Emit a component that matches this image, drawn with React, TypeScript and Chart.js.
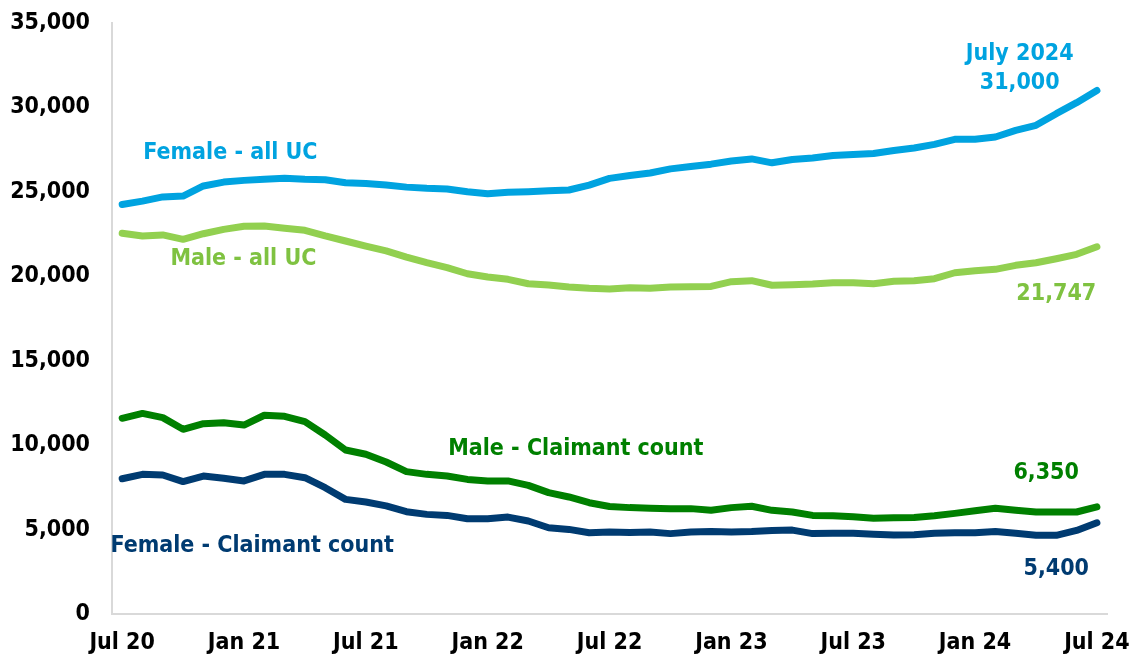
import React, { useEffect, useRef } from "react";
import { Chart, registerables } from "chart.js";

Chart.register(...registerables);

const months = [
  "Jul 20", "Aug 20", "Sep 20", "Oct 20", "Nov 20", "Dec 20",
  "Jan 21", "Feb 21", "Mar 21", "Apr 21", "May 21", "Jun 21",
  "Jul 21", "Aug 21", "Sep 21", "Oct 21", "Nov 21", "Dec 21",
  "Jan 22", "Feb 22", "Mar 22", "Apr 22", "May 22", "Jun 22",
  "Jul 22", "Aug 22", "Sep 22", "Oct 22", "Nov 22", "Dec 22",
  "Jan 23", "Feb 23", "Mar 23", "Apr 23", "May 23", "Jun 23",
  "Jul 23", "Aug 23", "Sep 23", "Oct 23", "Nov 23", "Dec 23",
  "Jan 24", "Feb 24", "Mar 24", "Apr 24", "May 24", "Jun 24",
  "Jul 24",
];

const tickLabels = ["Jul 20", "Jan 21", "Jul 21", "Jan 22", "Jul 22", "Jan 23", "Jul 23", "Jan 24", "Jul 24"];

const femaleAllUC = [
  24250, 24450, 24700, 24750, 25350, 25580, 25680, 25740, 25800, 25740,
  25720, 25540, 25500, 25400, 25280, 25210, 25170, 25010, 24890, 24970,
  25010, 25070, 25110, 25400, 25800, 25970, 26120, 26360, 26500, 26640,
  26830, 26950, 26720, 26920, 27010, 27150, 27210, 27270, 27450, 27600,
  27810, 28110, 28110, 28250, 28640, 28940, 29630, 30280, 31000,
];

const maleAllUC = [
  22550, 22390, 22450, 22190, 22520, 22780, 22960, 22980, 22840, 22720,
  22390, 22090, 21790, 21500, 21140, 20810, 20510, 20150, 19960, 19820,
  19560, 19480, 19370, 19290, 19250, 19320, 19290, 19370, 19380, 19400,
  19680, 19740, 19470, 19500, 19540, 19620, 19620, 19560, 19700, 19740,
  19860, 20210, 20330, 20410, 20650, 20800, 21040, 21300, 21747,
];

const maleClaimant = [
  11590, 11880, 11630, 10940, 11270, 11330, 11190, 11770, 11710, 11390,
  10600, 9710, 9460, 9000, 8430, 8270, 8170, 7970, 7880, 7880,
  7620, 7190, 6930, 6590, 6370, 6300, 6260, 6240, 6240, 6140,
  6300, 6380, 6140, 6040, 5840, 5820, 5760, 5670, 5700, 5720,
  5820, 5960, 6120, 6260, 6140, 6040, 6040, 6040, 6350,
];

const femaleClaimant = [
  8010, 8270, 8230, 7840, 8170, 8040, 7880, 8270, 8270, 8070,
  7480, 6790, 6630, 6400, 6060, 5900, 5840, 5640, 5640, 5740,
  5510, 5110, 5010, 4810, 4850, 4830, 4850, 4760, 4860, 4880,
  4850, 4880, 4950, 4970, 4760, 4780, 4780, 4720, 4680, 4700,
  4780, 4810, 4810, 4880, 4780, 4660, 4660, 4950, 5400,
];

const seriesNames = ["Female - all UC", "Male - all UC", "Male - Claimant count", "Female - Claimant count"];

const COLORS = {
  femaleUC: "#00A3E0",
  maleUC: "#92D050",
  maleUCText: "#7FC241",
  maleCC: "#008000",
  femaleCC: "#003B71",
  axis: "#D9D9D9",
};

const FONT_FAMILY = "'DejaVu Sans Condensed', 'DejaVu Sans', sans-serif";

// Text annotations anchored in data space: [text, category index, value, colour]
const annotations: [string, number, number, string][] = [
  [seriesNames[0], 5.33, 27300, COLORS.femaleUC],
  [seriesNames[1], 5.97, 21000, COLORS.maleUCText],
  [seriesNames[2], 22.34, 9780, COLORS.maleCC],
  [seriesNames[3], 6.4, 4040, COLORS.femaleCC],
  ["July 2024", 44.2, 33150, COLORS.femaleUC],
  ["31,000", 44.2, 31450, COLORS.femaleUC],
  ["21,747", 46.0, 18950, COLORS.maleUCText],
  ["6,350", 45.5, 8350, COLORS.maleCC],
  ["5,400", 46.0, 2650, COLORS.femaleCC],
];

const annotationPlugin = {
  id: "textAnnotations",
  afterDraw(chart: any) {
    const { ctx, scales } = chart;
    const xs = scales.x;
    const ys = scales.y;
    const step = xs.getPixelForValue(1) - xs.getPixelForValue(0);
    const x0 = xs.getPixelForValue(0);
    ctx.save();
    ctx.font = `bold 23px ${FONT_FAMILY}`;
    ctx.textAlign = "center";
    ctx.textBaseline = "middle";
    for (const [text, idx, val, color] of annotations) {
      ctx.fillStyle = color;
      ctx.fillText(text, x0 + idx * step, ys.getPixelForValue(val));
    }
    ctx.restore();
  },
};

export default function App() {
  const canvasRef = useRef<HTMLCanvasElement | null>(null);

  useEffect(() => {
    const canvas = canvasRef.current;
    if (!canvas) return;
    const lineStyle = {
      borderWidth: 7,
      pointRadius: 0,
      pointHoverRadius: 0,
      tension: 0,
      borderCapStyle: "round" as const,
      borderJoinStyle: "round" as const,
      fill: false,
    };
    const chart = new Chart(canvas, {
      type: "line",
      data: {
        labels: months,
        datasets: [
          { label: seriesNames[0], data: femaleAllUC, borderColor: COLORS.femaleUC, backgroundColor: COLORS.femaleUC, ...lineStyle },
          { label: seriesNames[1], data: maleAllUC, borderColor: COLORS.maleUC, backgroundColor: COLORS.maleUC, ...lineStyle },
          { label: seriesNames[2], data: maleClaimant, borderColor: COLORS.maleCC, backgroundColor: COLORS.maleCC, ...lineStyle },
          { label: seriesNames[3], data: femaleClaimant, borderColor: COLORS.femaleCC, backgroundColor: COLORS.femaleCC, ...lineStyle },
        ],
      },
      options: {
        responsive: false,
        animation: false,
        layout: { padding: { top: 23, right: 33, bottom: 0, left: 0 } },
        plugins: {
          legend: { display: false },
          tooltip: { enabled: false },
          title: { display: false },
        },
        scales: {
          x: {
            type: "category",
            offset: true,
            grid: { display: false, drawTicks: false },
            border: { display: true, color: COLORS.axis, width: 2 },
            afterFit: (scale: any) => {
              scale.height = 45;
            },
            ticks: {
              autoSkip: false,
              maxRotation: 0,
              minRotation: 0,
              padding: 15,
              color: "#000000",
              font: { family: FONT_FAMILY, weight: "bold", size: 23 },
              callback: (_v: any, i: number) => (tickLabels.includes(months[i]) ? months[i] : null),
            },
          },
          y: {
            min: 0,
            max: 35000,
            grid: { display: false, drawTicks: false },
            border: { display: true, color: COLORS.axis, width: 2 },
            afterFit: (scale: any) => {
              scale.width = 112;
              scale.paddingTop = 0;
              scale.paddingBottom = 0;
            },
            ticks: {
              stepSize: 5000,
              padding: 22,
              color: "#000000",
              font: { family: FONT_FAMILY, weight: "bold", size: 23 },
              callback: (v: any) => Number(v).toLocaleString("en-GB"),
            },
          },
        },
      },
      plugins: [annotationPlugin],
    });
    return () => chart.destroy();
  }, []);

  return (
    <div style={{ position: "fixed", left: 0, top: 0, width: 1145, height: 659, background: "#ffffff" }}>
      <canvas ref={canvasRef} width={1145} height={659} style={{ display: "block" }} />
    </div>
  );
}
